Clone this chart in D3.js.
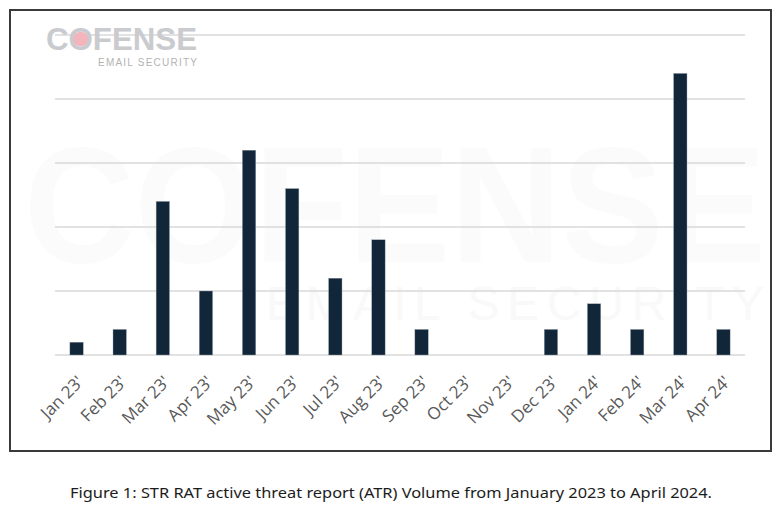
<!DOCTYPE html>
<html>
<head>
<meta charset="utf-8">
<script src="https://cdn.jsdelivr.net/npm/d3@7"></script>
<style>
  html, body { margin: 0; padding: 0; background: #fff; }
  svg { display: block; }
</style>
</head>
<body>
<svg id="chart" width="783" height="516"></svg>
<script>
const categories = ["Jan 23'", "Feb 23'", "Mar 23'", "Apr 23'", "May 23'", "Jun 23'", "Jul 23'", "Aug 23'",
                    "Sep 23'", "Oct 23'", "Nov 23'", "Dec 23'", "Jan 24'", "Feb 24'", "Mar 24'", "Apr 24'"];
const values = [1, 2, 12, 5, 16, 13, 6, 9, 2, 0, 0, 2, 4, 2, 22, 2];
const gridTicks = [0, 5, 10, 15, 20, 25];
const caption = "Figure 1: STR RAT active threat report (ATR) Volume from January 2023 to April 2024.";

const svg = d3.select("#chart");
const plot = { left: 55, right: 745, top: 35, bottom: 355 };

// frame
svg.append("rect")
  .attr("x", 10).attr("y", 10).attr("width", 761).attr("height", 441)
  .attr("fill", "#fff").attr("stroke", "#3a3a3a").attr("stroke-width", 2);

// background watermark
const wm = svg.append("g").attr("pointer-events", "none");
wm.append("text")
  .attr("x", 24).attr("y", 262)
  .attr("font-family", "Liberation Sans, Arial, sans-serif")
  .attr("font-weight", "bold")
  .attr("font-size", 165)
  .attr("textLength", 742)
  .attr("lengthAdjust", "spacingAndGlyphs")
  .attr("fill", "#fbfbfb")
  .text("COFENSE");
wm.append("text")
  .attr("x", 266).attr("y", 320)
  .attr("font-family", "Liberation Sans, Arial, sans-serif")
  .attr("font-size", 48)
  .attr("textLength", 498)
  .attr("lengthAdjust", "spacing")
  .attr("fill", "#f9f9f9")
  .text("EMAIL SECURITY");

const x = d3.scaleBand().domain(categories).range([plot.left, plot.right]).paddingInner(0.69).paddingOuter(0.345);
const y = d3.scaleLinear().domain([0, 25]).range([plot.bottom, plot.top]);

// gridlines
svg.append("g")
  .selectAll("line")
  .data(gridTicks)
  .join("line")
  .attr("x1", plot.left).attr("x2", plot.right)
  .attr("y1", d => y(d)).attr("y2", d => y(d))
  .attr("stroke", "#d9d9d9").attr("stroke-width", 1.5);

// bars
svg.append("g")
  .selectAll("rect")
  .data(values.map((v, i) => ({ c: categories[i], v })))
  .join("rect")
  .attr("x", d => x(d.c))
  .attr("width", x.bandwidth())
  .attr("y", d => y(d.v))
  .attr("height", d => y(0) - y(d.v))
  .attr("fill", "#12263a")
  .attr("stroke", "#9aa3ad").attr("stroke-width", 0.4);

// x axis labels
const xAxis = d3.axisBottom(x).tickSize(0).tickPadding(0);
const ax = svg.append("g").attr("transform", `translate(0,${plot.bottom})`).call(xAxis);
ax.select(".domain").remove();
ax.selectAll("text")
  .attr("font-family", "Open Sans, sans-serif")
  .attr("font-size", 17)
  .attr("fill", "#595959")
  .attr("text-anchor", "end")
  .attr("dy", 0)
  .attr("transform", "translate(8,28) rotate(-45)");

// logo
const logo = svg.append("g");
const logoText = logo.append("text")
  .attr("x", 46).attr("y", 50)
  .attr("font-family", "Liberation Sans, Arial, sans-serif")
  .attr("font-weight", "bold")
  .attr("font-size", 31)
  .attr("textLength", 151)
  .attr("lengthAdjust", "spacingAndGlyphs")
  .attr("fill", "#c9cbcf")
  .text("COFENSE");
let oc = { cx: 85, cy: 39, r: 7 };
try {
  const ext = logoText.node().getExtentOfChar(1);
  oc = { cx: ext.x + ext.width / 2, cy: 50 - 11, r: Math.min(ext.width * 0.3, 7.5) };
} catch (e) {}
logo.append("circle")
  .attr("cx", oc.cx).attr("cy", oc.cy).attr("r", oc.r)
  .attr("fill", "#f3b5bc");
logo.append("text")
  .attr("x", 98).attr("y", 66)
  .attr("font-family", "Liberation Sans, Arial, sans-serif")
  .attr("font-size", 10)
  .attr("textLength", 99)
  .attr("lengthAdjust", "spacing")
  .attr("fill", "#b3b3b3")
  .text("EMAIL SECURITY");

// caption
svg.append("text")
  .attr("x", 391).attr("y", 498)
  .attr("text-anchor", "middle")
  .attr("font-family", "Noto Sans, sans-serif")
  .attr("font-size", 14.5)
  .attr("textLength", 642)
  .attr("lengthAdjust", "spacingAndGlyphs")
  .attr("fill", "#1c1c1c")
  .text(caption);
</script>
</body>
</html>
